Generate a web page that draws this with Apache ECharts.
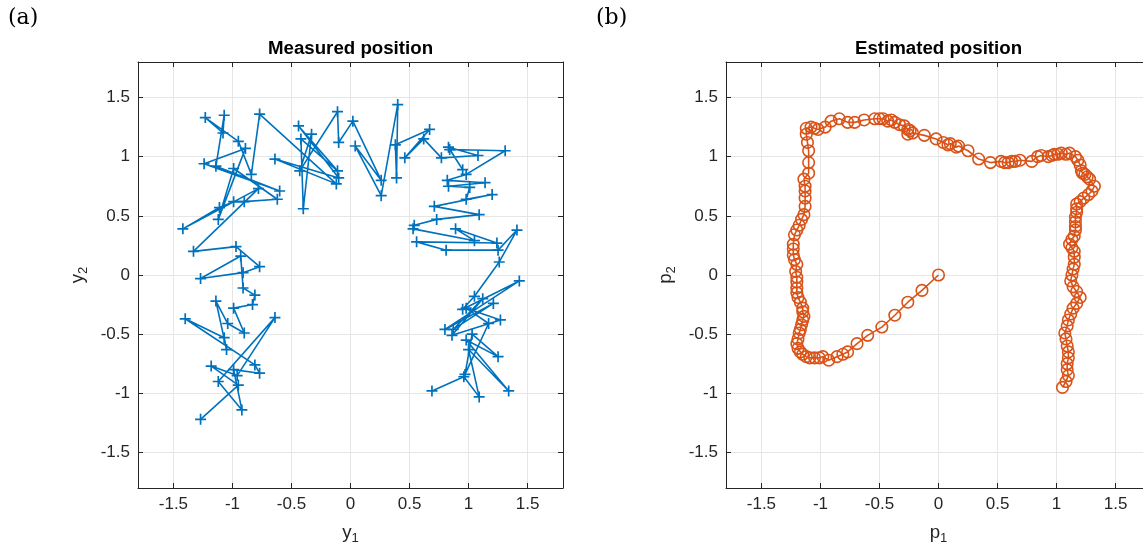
<!DOCTYPE html>
<html>
<head>
<meta charset="utf-8">
<script src="https://cdn.jsdelivr.net/npm/echarts@6/dist/echarts.min.js"></script>
<style>
html,body{margin:0;padding:0;background:#fff;}
#c{width:1143px;height:545px;}
</style>
</head>
<body>
<div id="c"></div>
<script>
// ---------- data ----------
const tickValues = [-1.5, -1, -0.5, 0, 0.5, 1, 1.5];
const axisRange = [-1.8, 1.8];
const panelLabels = ['(a)', '(b)'];
const titles = ['Measured position', 'Estimated position'];

const measured = [
  [-1.27,-1.22],[-0.95,-0.93],[-1.18,-0.77],[-0.96,-0.85],[-0.64,-0.36],[-1.12,-0.90],[-0.92,-1.14],
  [-0.99,-0.80],[-0.77,-0.83],[-0.81,-0.76],[-1.40,-0.37],[-1.07,-0.53],[-1.05,-0.63],[-1.14,-0.22],
  [-1.04,-0.41],[-0.90,-0.49],[-0.99,-0.28],[-0.83,-0.25],[-0.81,-0.17],[-0.91,-0.11],[-0.93,0.16],
  [-1.27,-0.03],[-0.91,0.02],[-0.77,0.07],[-0.97,0.24],[-1.33,0.20],[-0.78,0.73],[-1.42,0.39],
  [-1.11,0.57],[-0.99,0.62],[-0.90,0.62],[-0.62,0.64],[-0.99,0.90],[-1.12,0.47],[-0.89,1.07],
  [-1.24,0.94],[-0.60,0.71],[-1.14,0.92],[-1.07,1.35],[-1.08,1.20],[-1.23,1.33],[-0.95,1.13],
  [-0.84,0.85],[-0.77,1.36],[-0.12,0.77],[-0.64,0.98],[-0.10,0.82],[-0.44,1.26],[-0.11,0.88],
  [-0.42,1.15],[-0.40,0.56],[-0.33,1.19],[-0.43,0.88],[-0.11,1.38],[-0.10,1.12],[0.02,1.30],
  [0.26,0.80],[0.04,1.09],[0.26,0.67],[0.40,1.44],[0.39,0.82],[0.38,1.10],[0.67,1.23],
  [0.46,0.99],[0.62,1.15],[0.77,0.99],[1.08,1.01],[0.83,1.08],[0.95,0.89],[0.84,1.06],
  [1.31,1.05],[0.98,0.85],[0.82,0.80],[1.14,0.78],[0.83,0.75],[1.01,0.74],[0.98,0.64],
  [1.20,0.68],[0.71,0.58],[1.09,0.51],[0.73,0.47],[0.54,0.42],[0.53,0.39],[1.05,0.29],
  [0.89,0.39],[1.24,0.27],[0.56,0.28],[0.81,0.21],[1.25,0.21],[1.41,0.38],[1.26,0.11],
  [1.05,-0.18],[0.95,-0.29],[1.43,-0.05],[0.80,-0.46],[1.21,-0.24],[0.87,-0.46],[1.12,-0.20],
  [0.86,-0.51],[1.27,-0.38],[0.98,-0.28],[1.17,-0.41],[0.97,-0.84],[1.03,-0.50],[1.25,-0.69],
  [0.98,-0.55],[1.34,-0.98],[1.00,-0.63],[1.09,-1.03],[0.96,-0.86],[0.69,-0.98]
];

const estimated = [
  [0,0],[-0.14,-0.13],[-0.26,-0.23],[-0.37,-0.34],[-0.48,-0.44],[-0.6,-0.51],[-0.69,-0.58],[-0.77,-0.65],
  [-0.81,-0.67],[-0.86,-0.69],[-0.93,-0.72],[-0.98,-0.69],[-1.01,-0.7],[-1.05,-0.7],[-1.09,-0.7],[-1.12,-0.69],
  [-1.15,-0.67],[-1.17,-0.65],[-1.19,-0.62],[-1.2,-0.58],[-1.19,-0.54],[-1.18,-0.49],[-1.17,-0.46],[-1.16,-0.42],
  [-1.15,-0.38],[-1.14,-0.35],[-1.15,-0.31],[-1.15,-0.28],[-1.17,-0.23],[-1.19,-0.19],[-1.2,-0.15],[-1.2,-0.11],
  [-1.2,-0.06],[-1.2,-0.02],[-1.21,0.03],[-1.2,0.09],[-1.22,0.13],[-1.23,0.17],[-1.23,0.22],[-1.23,0.26],
  [-1.22,0.34],[-1.2,0.38],[-1.18,0.42],[-1.16,0.47],[-1.14,0.51],[-1.13,0.58],[-1.13,0.65],[-1.13,0.71],
  [-1.13,0.75],[-1.14,0.81],[-1.1,0.86],[-1.1,0.95],[-1.1,1.05],[-1.11,1.12],[-1.12,1.19],[-1.12,1.24],
  [-1.08,1.25],[-1.05,1.24],[-1.02,1.23],[-0.96,1.25],[-0.91,1.3],[-0.84,1.32],[-0.77,1.29],[-0.71,1.29],
  [-0.63,1.31],[-0.54,1.32],[-0.5,1.32],[-0.47,1.32],[-0.43,1.3],[-0.4,1.31],[-0.37,1.29],[-0.33,1.27],
  [-0.29,1.26],[-0.26,1.23],[-0.24,1.22],[-0.26,1.19],[-0.22,1.2],[-0.12,1.18],[-0.02,1.15],[0.04,1.12],
  [0.08,1.1],[0.1,1.11],[0.15,1.08],[0.17,1.09],[0.25,1.05],[0.34,0.98],[0.44,0.95],[0.53,0.96],
  [0.56,0.95],[0.59,0.95],[0.62,0.96],[0.65,0.96],[0.69,0.97],[0.79,0.96],[0.84,1.0],[0.87,1.01],
  [0.93,1.0],[0.96,1.01],[0.98,1.02],[1.01,1.02],[1.04,1.03],[1.08,1.02],[1.11,1.03],[1.16,1.0],
  [1.18,0.97],[1.2,0.93],[1.21,0.88],[1.22,0.86],[1.24,0.85],[1.26,0.83],[1.28,0.81],[1.32,0.75],
  [1.3,0.71],[1.27,0.68],[1.23,0.65],[1.2,0.62],[1.17,0.6],[1.17,0.56],[1.17,0.53],[1.16,0.49],
  [1.16,0.45],[1.16,0.41],[1.16,0.38],[1.15,0.33],[1.13,0.3],[1.11,0.26],[1.13,0.23],[1.15,0.2],
  [1.15,0.15],[1.15,0.09],[1.14,0.05],[1.13,0.0],[1.12,-0.05],[1.14,-0.1],[1.17,-0.14],[1.2,-0.19],
  [1.17,-0.24],[1.14,-0.28],[1.12,-0.33],[1.1,-0.38],[1.09,-0.43],[1.07,-0.49],[1.08,-0.54],[1.09,-0.6],
  [1.1,-0.65],[1.1,-0.7],[1.09,-0.75],[1.09,-0.8],[1.1,-0.85],[1.08,-0.9],[1.05,-0.95]
];

// ---------- styling ----------
const FONT = '"Liberation Sans", Arial, Helvetica, sans-serif';
const AXC = '#262626';
const GRIDC = '#e6e6e6';
const BLUE = '#0072BD';
const ORANGE = '#D95319';
const grids = [
  {left: 138, top: 62, width: 425, height: 426, outerBoundsMode: 'none', containLabel: false},
  {left: 726, top: 62, width: 425, height: 426, outerBoundsMode: 'none', containLabel: false}
];
const nameRich = {
  v: {fontSize: 18.7, fontFamily: FONT, color: AXC},
  s: {fontSize: 13, fontFamily: FONT, color: AXC, padding: [11, 0, 0, 0]}
};

function mainAxis(gi, pos, name, isX) {
  return {
    type: 'value', gridIndex: gi, position: pos,
    min: axisRange[0], max: axisRange[1],
    name: name, nameLocation: 'middle',
    nameGap: isX ? 33 : 48,
    nameRotate: isX ? 0 : 90,
    nameTextStyle: {rich: nameRich},
    axisLine: {show: true, onZero: false, lineStyle: {color: AXC, width: 1}},
    axisTick: {show: true, inside: true, length: 5, customValues: tickValues, lineStyle: {color: AXC, width: 1}},
    axisLabel: {show: true, customValues: tickValues, margin: 8, fontSize: 17, fontFamily: FONT, color: AXC},
    splitLine: {show: true, lineStyle: {color: GRIDC, width: 1}}
  };
}
function boxAxis(gi, pos, visible) {
  return {
    type: 'value', gridIndex: gi, position: pos,
    min: axisRange[0], max: axisRange[1],
    axisLine: {show: visible, onZero: false, lineStyle: {color: AXC, width: 1}},
    axisTick: {show: visible, inside: true, length: 5, customValues: tickValues, lineStyle: {color: AXC, width: 1}},
    axisLabel: {show: false},
    splitLine: {show: false}
  };
}

const xAxes = [], yAxes = [];
const xNames = ['{v|y}{s|1}', '{v|p}{s|1}'];
const yNames = ['{v|y}{s|2}', '{v|p}{s|2}'];
for (let g = 0; g < 2; g++) {
  xAxes.push(mainAxis(g, 'bottom', xNames[g], true));
  xAxes.push(boxAxis(g, 'top', true));
  yAxes.push(mainAxis(g, 'left', yNames[g], false));
  yAxes.push(boxAxis(g, 'right', g === 0));
}

const plusPath = 'path://M0,5L10,5M5,0L5,10';

const option = {
  animation: false,
  backgroundColor: '#ffffff',
  title: titles.map((t, i) => ({
    text: t,
    left: grids[i].left + 212.5,
    top: 39,
    textAlign: 'center',
    padding: 0,
    textStyle: {fontSize: 18.7, fontWeight: 'bold', fontFamily: FONT, color: '#000'}
  })),
  graphic: [
    {type: 'text', left: 8, top: 7, style: {text: panelLabels[0], font: '22px "DejaVu Serif", serif', fill: '#000'}},
    {type: 'text', left: 596, top: 7, style: {text: panelLabels[1], font: '22px "DejaVu Serif", serif', fill: '#000'}}
  ],
  grid: grids,
  xAxis: xAxes,
  yAxis: yAxes,
  series: [
    {
      type: 'line', xAxisIndex: 0, yAxisIndex: 0,
      data: measured,
      symbol: plusPath, symbolSize: 11, showSymbol: true,
      lineStyle: {color: BLUE, width: 1.6},
      itemStyle: {color: BLUE, borderColor: BLUE, borderWidth: 1.7},
      emphasis: {disabled: true}
    },
    {
      type: 'line', xAxisIndex: 2, yAxisIndex: 2,
      data: estimated,
      symbol: 'circle', symbolSize: 11.5, showSymbol: true,
      lineStyle: {color: ORANGE, width: 1.6},
      itemStyle: {color: 'rgba(0,0,0,0)', borderColor: ORANGE, borderWidth: 1.6},
      emphasis: {disabled: true}
    }
  ]
};

const chart = echarts.init(document.getElementById('c'), null, {renderer: 'canvas'});
chart.setOption(option);
</script>
</body>
</html>
